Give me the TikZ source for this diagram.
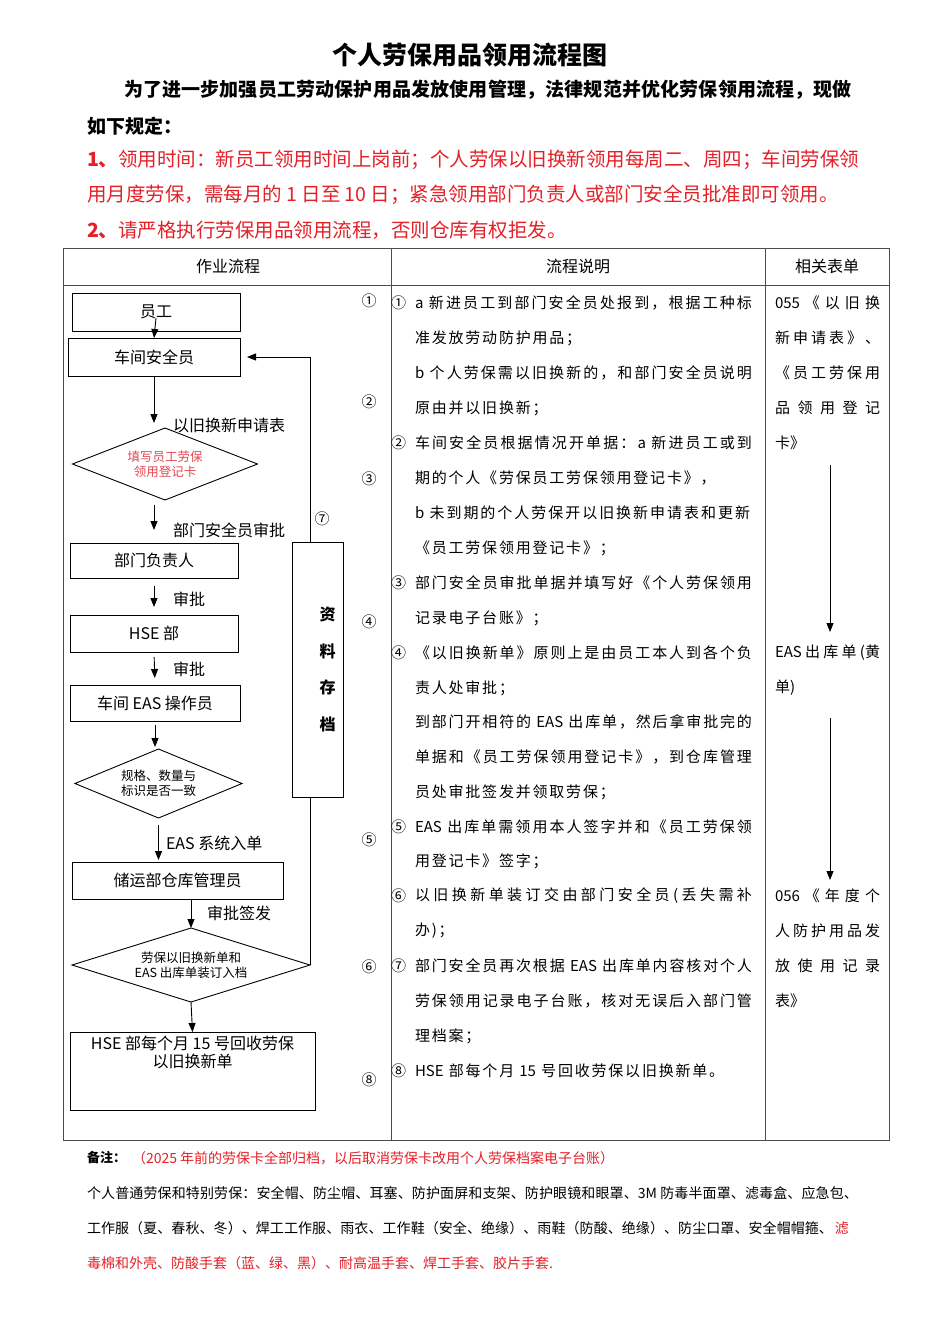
\documentclass[tikz,border=0pt]{standalone}
\usepackage{fontspec}
\setmainfont{Noto Sans CJK SC}
\usetikzlibrary{shapes.geometric,arrows.meta,calc}
\definecolor{myred}{RGB}{228,32,40}
\definecolor{dred}{RGB}{232,70,80}
\newcommand\fsz[1]{\fontsize{#1}{#1}\selectfont}
\newskip\jstskip
\makeatletter
\let\jst@end\relax
\def\jst@#1{\ifx\jst@end#1\unskip\else#1\hskip\jstskip\relax\expandafter\jst@\fi}
\newcommand\jstx[1]{\jst@#1\jst@end}
\makeatother
\newcommand\J[1]{\makebox[337pt][s]{\jstskip=0pt plus 1fil\jstx{#1}}}
\newcommand\N[1]{\mbox{\jstskip=1.8pt\jstx{#1}}}
\newcommand\R[1]{\makebox[105pt][s]{#1}}
\begin{document}
\begin{tikzpicture}[x=1pt,y=-1pt,
  every node/.style={inner sep=0pt, outer sep=0pt},
  fbox/.style={draw, line width=0.9pt, fill=white, font=\fsz{16}},
  dia/.style={diamond, draw, line width=0.9pt, inner sep=0pt, align=center, font=\fontsize{12.5}{15}\selectfont},
  arr/.style={line width=0.9pt, -{Triangle[width=7pt,length=9pt]}},
  lbl/.style={anchor=west, font=\fsz{16}},
  num/.style={font=\fsz{15}},
  mid/.style={anchor=west, font=\fsz{15}},
  rt/.style={anchor=west, font=\fsz{15}},
  tbl/.style={line width=0.9pt, draw=black!70},
  note/.style={anchor=west, font=\fsz{14}},
  ]
\useasboundingbox[fill=white] (0,0) rectangle (950,1344);

% ---------- heading ----------
\node[font=\bfseries\fsz{25}] (title) at (470,55) {个人劳保用品领用流程图};
\node[anchor=west,font=\bfseries\fsz{19}] (in1) at (124,90) {\makebox[728pt][s]{\jstskip=0pt plus 1fil\jstx{为了进一步加强员工劳动保护用品发放使用管理，法律规范并优化劳保领用流程，现做}}};
\node[anchor=west,font=\bfseries\fsz{19}] (in2) at (87,126) {如下规定：};
\node[anchor=west,font=\fsz{19.5},text=myred] (rq1) at (87,160) {\makebox[768pt][s]{\jstskip=0pt plus 1fil\textbf{1、}\jstx{领用时间：新员工领用时间上岗前；个人劳保以旧换新领用每周二、周四；车间劳保领}}};
\node[anchor=west,font=\fsz{19.5},text=myred] (rq2) at (87,195) {用月度劳保，需每月的 1 日至 10 日；紧急领用部门负责人或部门安全员批准即可领用。};
\node[anchor=west,font=\fsz{19.5},text=myred] (rq3) at (87,230) {\textbf{2、}请严格执行劳保用品领用流程，否则仓库有权拒发。};

% ---------- table ----------
\draw[tbl] (63,248) rectangle (889,1140);
\draw[tbl] (63,285) -- (889,285);
\draw[tbl] (391,248) -- (391,1140);
\draw[tbl] (765,248) -- (765,1140);
\node[font=\fsz{16}] (h1) at (228,266) {作业流程};
\node[font=\fsz{16}] (h2) at (578,266) {流程说明};
\node[font=\fsz{16}] (h3) at (827,266) {相关表单};

% ---------- flow ----------
\node[fbox, minimum width=168, minimum height=38] (yg) at (156,312) {员工};
\node[fbox, minimum width=172, minimum height=38] (cj) at (154,357) {车间安全员};
\node[dia, minimum width=185, minimum height=72, shape aspect=2.6, text=dred] (d1) at (165,464) {填写员工劳保\\领用登记卡};
\node[fbox, minimum width=168, minimum height=35] (bm) at (154,560.5) {部门负责人};
\node[fbox, minimum width=168, minimum height=37] (hs) at (154,633.5) {HSE 部};
\node[fbox, minimum width=170, minimum height=36] (ea) at (155,703) {车间 EAS 操作员};
\node[dia, minimum width=167, minimum height=69, shape aspect=2.4] (d2) at (158.5,783.5) {规格、数量与\\标识是否一致};
\node[fbox, minimum width=211, minimum height=37] (cy) at (177.5,880.5) {储运部仓库管理员};
\node[dia, minimum width=238, minimum height=74, shape aspect=3.2] (d3) at (191,965) {劳保以旧换新单和\\EAS 出库单装订入档};
\node[fbox, inner xsep=2pt, inner ysep=4pt] (hb) at (192.5,1071) {\parbox[c][70pt][t]{241pt}{\centering\fontsize{16}{18}\selectfont HSE 部每个月 15 号回收劳保\\以旧换新单}};

\draw[arr] ([yshift=13pt]yg.south) -- (cj.north);
\draw[arr, shorten >=5pt] (cj.south) -- (cj.south |- d1.north);
\node[lbl] (t1) at (173,425) {以旧换新申请表};
\draw[arr, shorten <=5pt, shorten >=13pt] (bm.north |- d1.south) -- (bm.north);
\node[lbl] (t2) at (173,530) {部门安全员审批};
\draw[arr, shorten <=8pt, shorten >=8pt] (bm.south) -- (hs.north);
\node[lbl] (t3) at (173,599) {审批};
\draw[arr, shorten <=5pt, shorten >=7pt] (hs.south) -- (ea.north);
\node[lbl] (t4) at (173,669) {审批};
\draw[arr, shorten <=4pt, shorten >=2pt] (ea.south) -- (ea.south |- d2.north);
\draw[arr, shorten <=7pt, shorten >=2pt] (d2.south) -- (d2.south |- cy.north);
\node[lbl] (t5) at (166,843) {EAS 系统入单};
\draw[arr] (cy.south -| d3.north) -- (d3.north);
\node[lbl] (t6) at (207,913) {审批签发};
\draw[arr] (d3.south) -- (hb.north);
\draw[arr] (d3.east) |- ([xshift=7pt]cj.east);

\node[fbox, minimum width=51, minimum height=255,
  label={[xshift=10pt, align=center, font=\bfseries\fontsize{16}{36.5}\selectfont]center:资\\料\\存\\档}] (arch) at (317.5,669.5) {};

% circled step marks
\node[num] (c1) at (369,301) {①};
\node[num] (c2) at (369,402) {②};
\node[num] (c3) at (369,479) {③};
\node[num] (c7) at (322,519) {⑦};
\node[num] (c4) at (369,622) {④};
\node[num] (c5) at (369,840) {⑤};
\node[num] (c6) at (369,967) {⑥};
\node[num] (c8) at (369,1080) {⑧};

% ---------- middle column ----------
\node[mid] (n1) at (391,303) {①};
\node[mid] (m1) at (415,303) {\J{{a\ }新进员工到部门安全员处报到，根据工种标}};
\node[mid] (m2) at (415,338) {\N{准发放劳动防护用品；}};
\node[mid] (m3) at (415,373) {\J{{b\ }个人劳保需以旧换新的，和部门安全员说明}};
\node[mid] (m4) at (415,408) {\N{原由并以旧换新；}};
\node[mid] (n2) at (391,443) {②};
\node[mid] (m5) at (415,443) {\J{车间安全员根据情况开单据：{a\ }新进员工或到}};
\node[mid] (m6) at (415,478) {\N{期的个人《劳保员工劳保领用登记卡》，}};
\node[mid] (m7) at (415,513) {\makebox[335pt][s]{\jstskip=0pt plus 1fil\jstx{{b\ }未到期的个人劳保开以旧换新申请表和更新}}};
\node[mid] (m8) at (415,548) {\N{《员工劳保领用登记卡》；}};
\node[mid] (n3) at (391,583) {③};
\node[mid] (m9) at (415,583) {\J{部门安全员审批单据并填写好《个人劳保领用}};
\node[mid] (m10) at (415,618) {\N{记录电子台账》；}};
\node[mid] (n4) at (391,653) {④};
\node[mid] (m11) at (415,653) {\J{《以旧换新单》原则上是由员工本人到各个负}};
\node[mid] (m12) at (415,688) {\N{责人处审批；}};
\node[mid] (m13) at (415,722) {\J{到部门开相符的{\ EAS\ }出库单，然后拿审批完的}};
\node[mid] (m14) at (415,757) {\J{单据和《员工劳保领用登记卡》，到仓库管理}};
\node[mid] (m15) at (415,792) {\N{员处审批签发并领取劳保；}};
\node[mid] (n5) at (391,827) {⑤};
\node[mid] (m16) at (415,827) {\J{{EAS\ }出库单需领用本人签字并和《员工劳保领}};
\node[mid] (m17) at (415,861) {\N{用登记卡》签字；}};
\node[mid] (n6) at (391,896) {⑥};
\node[mid] (m18) at (415,896) {\J{以旧换新单装订交由部门安全员(丢失需补}};
\node[mid] (m19) at (415,931) {\N{办)；}};
\node[mid] (n7) at (391,966) {⑦};
\node[mid] (m20) at (415,966) {\J{部门安全员再次根据{\ EAS\ }出库单内容核对个人}};
\node[mid] (m21) at (415,1001) {\J{劳保领用记录电子台账，核对无误后入部门管}};
\node[mid] (m22) at (415,1036) {\N{理档案；}};
\node[mid] (n8) at (391,1071) {⑧};
\node[mid] (m23) at (415,1071) {\N{{HSE\ }部每个月{\ 15\ }号回收劳保以旧换新单。}};

% ---------- right column ----------
\node[rt] (r1) at (775,303) {\R{055\hfill 《\hfill 以\hfill 旧\hfill 换}};
\node[rt] (r2) at (775,338) {\R{新\hfill 申\hfill 请\hfill 表\hfill 》\hfill 、}};
\node[rt] (r3) at (775,373) {\R{《\hfill 员\hfill 工\hfill 劳\hfill 保\hfill 用}};
\node[rt] (r4) at (775,408) {\R{品\hfill 领\hfill 用\hfill 登\hfill 记}};
\node[rt] (r5) at (775,443) {卡》};
\node[rt] (r6) at (775,653) {\R{EAS\hfill 出\hfill 库\hfill 单\hfill (黄}};
\node[rt] (r7) at (775,688) {单)};
\node[rt] (r8) at (775,896) {\R{056\hfill 《\hfill 年\hfill 度\hfill 个}};
\node[rt] (r9) at (775,931) {\R{人\hfill 防\hfill 护\hfill 用\hfill 品\hfill 发}};
\node[rt] (r10) at (775,966) {\R{放\hfill 使\hfill 用\hfill 记\hfill 录}};
\node[rt] (r11) at (775,1001) {表》};
\coordinate (ra1) at (830,465);
\coordinate (ra1e) at (830,632);
\coordinate (ra2) at (830,718);
\coordinate (ra2e) at (830,880);
\draw[arr] (ra1) -- (ra1e);
\draw[arr] (ra2) -- (ra2e);

% ---------- notes ----------
\node[note, font=\bfseries\fsz{13}] (bz) at (87,1158) {备注：};
\node[note, text=myred] (bz1) at (132,1158) {（2025 年前的劳保卡全部归档，以后取消劳保卡改用个人劳保档案电子台账）};
\node[note] (bz2) at (87,1193) {\makebox[771pt][s]{\jstskip=0pt plus 1fil\jstx{个人普通劳保和特别劳保：安全帽、防尘帽、耳塞、防护面屏和支架、防护眼镜和眼罩、{3M\ }防毒半面罩、滤毒盒、应急包、}}};
\node[note] (bz3) at (87,1228) {\makebox[746pt][s]{\jstskip=0pt plus 1fil\jstx{工作服（夏、春秋、冬）、焊工工作服、雨衣、工作鞋（安全、绝缘）、雨鞋（防酸、绝缘）、防尘口罩、安全帽帽箍、}}\hspace{2pt}\textcolor{myred}{滤}};
\node[note, text=myred] (bz4) at (87,1263) {毒棉和外壳、防酸手套（蓝、绿、黑）、耐高温手套、焊工手套、胶片手套.};
\end{tikzpicture}
\end{document}
